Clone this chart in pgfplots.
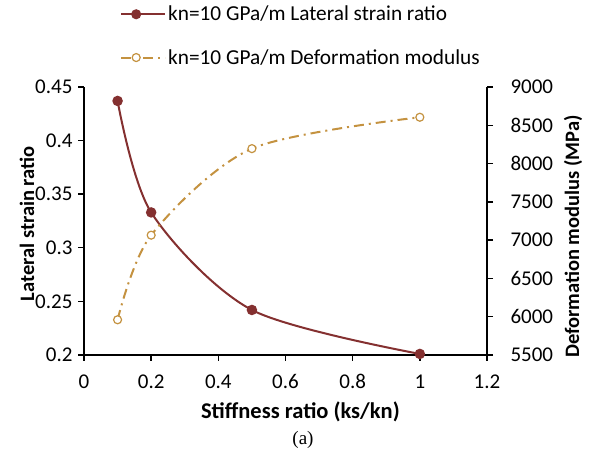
\documentclass[border=0pt]{standalone}
\usepackage{pgfplots}
\pgfplotsset{compat=1.18}
\usepackage{fontspec}
\setmainfont{Carlito}
\newfontfamily\serif{Liberation Serif}
\definecolor{lsr}{RGB}{132,48,48}
\definecolor{dm}{RGB}{196,146,64}
\begin{document}
\begin{tikzpicture}[x=1pt,y=1pt]
\useasboundingbox (0,0) rectangle (589,452);
\pgfplotsset{
  base/.style={
    scale only axis, width=403pt, height=268pt,
    at={(84pt,97pt)}, anchor=south west,
    xmin=0, xmax=1.2,
    axis line style={line width=1.4pt, black},
    major tick style={line width=1.4pt, black},
    major tick length=6pt,
    tick label style={font=\fontsize{21}{23}\selectfont},
    label style={font=\fontsize{20.5}{22}\selectfont\bfseries},
    /pgf/number format/assume math mode=true,
  }
}
\begin{axis}[base,
  axis x line*=bottom, axis y line*=left,
  ymin=0.2, ymax=0.45,
  ytick={0.2,0.25,...,0.45},
  yticklabels={0.2,0.25,0.3,0.35,0.4,0.45},
  xtick={0,0.2,...,1.2},
  xticklabels={0,0.2,0.4,0.6,0.8,1,1.2},
  xtick align=outside, ytick align=outside,
  xticklabel style={yshift=-10pt},
  yticklabel style={xshift=-2pt},
  xlabel={Stiffness ratio (ks/kn)},
  ylabel={Lateral strain ratio},
  xlabel style={at={(axis description cs:0.537,-0.213)}, anchor=center, font=\fontsize{22.5}{24}\selectfont\bfseries},
  ylabel style={at={(axis description cs:-0.1414,0.49)}, anchor=center},
]
\addplot[color=lsr, line width=2pt, smooth, tension=0.5, mark=*, mark size=4.2pt, mark options={fill=lsr, draw=lsr}]
coordinates {(0.1,0.437) (0.2,0.333) (0.5,0.242) (1.0,0.201)};
\end{axis}
\begin{axis}[base,
  axis x line=none, axis y line*=right,
  ymin=5500, ymax=9000,
  ytick={5500,6000,...,9000},
  ytick align=outside,
  yticklabel style={xshift=14pt},
  ylabel={Deformation modulus (MPa)},
  ylabel style={at={(axis description cs:1.2134,0.442)}, anchor=center},
  /pgf/number format/set thousands separator={},
  legend style={draw=none, fill=none, at={(0.0893,1.31)}, anchor=north west,
     font=\fontsize{21.3}{23}\selectfont, row sep=23pt, inner sep=0pt,
     legend cell align=left},
  legend image code/.code={
     \path (0pt,0pt) -- (44pt,0pt);
     \draw[#1] (0pt,0pt) -- (30pt,0pt);
     \draw[#1, solid] plot coordinates {(15pt,0pt)};
  },
]
\addlegendimage{color=lsr, line width=2pt, mark=*, mark size=4pt, mark options={fill=lsr, draw=lsr}}
\addlegendentry{kn=10 GPa/m Lateral strain ratio}
\addplot[color=dm, line width=2pt, dash pattern=on 10pt off 5pt on 2pt off 5pt, smooth, tension=0.5, mark=*, mark size=4pt, mark options={solid, fill=white, draw=dm, line width=1.2pt}]
coordinates {(0.1,5960) (0.2,7065) (0.5,8195) (1.0,8605)};
\addlegendentry{kn=10 GPa/m Deformation modulus}
\end{axis}
\node[font=\serif\fontsize{19}{21}\selectfont] at (303,12) {(a)};
\end{tikzpicture}
\end{document}
